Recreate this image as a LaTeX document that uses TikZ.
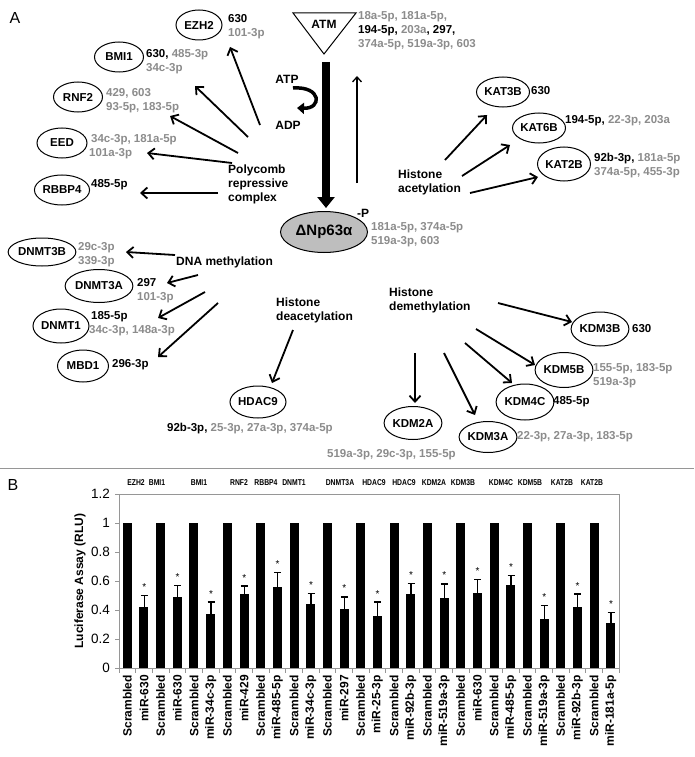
\documentclass[tikz,border=0pt]{standalone}
\usepackage{fontspec}
\setmainfont{Liberation Sans}
\newfontfamily\narrowfont[FakeStretch=0.8]{Liberation Sans}
\usetikzlibrary{shapes.geometric,arrows.meta}
\definecolor{gt}{RGB}{140,140,140}
\definecolor{axgray}{RGB}{150,150,150}
\definecolor{pfill}{RGB}{190,190,190}
\newcommand{\gry}[1]{\textcolor{gt}{#1}}
\begin{document}
\begin{tikzpicture}[x=1pt,y=-1pt,
  gene/.style={ellipse,draw,line width=1pt,inner sep=0pt,font=\fontsize{11.5}{13}\selectfont\bfseries},
  lab/.style={inner sep=0pt,align=left,font=\fontsize{11.5}{14}\selectfont\bfseries},
  proc/.style={inner sep=0pt,align=left,font=\fontsize{12}{14}\selectfont\bfseries},
  arr/.style={line width=1.8pt,-{Straight Barb[length=6pt,width=11pt]}},
  thinarr/.style={line width=1.3pt,-{Straight Barb[length=5pt,width=9pt]}},
  panel/.style={inner sep=0pt,font=\fontsize{16}{18}\selectfont},
  xlab/.style={inner sep=0pt,rotate=90,anchor=east,font=\fontsize{12}{14}\selectfont\bfseries},
  toplab/.style={inner sep=0pt,font=\narrowfont\fontsize{8.5}{9}\selectfont\bfseries},
  ticklab/.style={inner sep=0pt,anchor=east,font=\fontsize{13.5}{15}\selectfont}
]
\useasboundingbox (0,0) rectangle (694,757);
\fill[white] (0,0) rectangle (694,757);

% ---------- Panel A ----------
\node[panel] (pA) at (15,18) {A};

% ATM
\draw[line width=1pt] (293,13) -- (356,13) -- (324,54) -- cycle;
\node[proc] (atm) at (324,24) {ATM};
\node[lab,anchor=north west] (atmlab) at (358,11) {\gry{18a-5p, 181a-5p,}\\194-5p, \gry{203a}, 297,\\\gry{374a-5p, 519a-3p, 603}};

% p63
\node[ellipse,draw,line width=1pt,fill=pfill,minimum width=87pt,minimum height=41pt,inner sep=0pt,font=\fontsize{15}{17}\selectfont\bfseries] (p63) at (324,232) {ΔNp63α};
\node[proc] (phos) at (363,213) {-P};
\node[lab,anchor=north west] (p63lab) at (371,222) {\gry{181a-5p, 374a-5p}\\\gry{519a-3p, 603}};

% thick ATM -> p63
\coordinate (barTop) at (326,62);
\coordinate (barTip) at (326,208);
\draw[line width=8pt,-{Triangle[length=11pt,width=17pt]}] (barTop) -- (barTip);

% ATP/ADP
\node[proc] (atp) at (287,79) {ATP};
\node[proc] (adp) at (288,125) {ADP};
\coordinate (cA) at (293,88);
\coordinate (cB) at (297,108);
\draw[line width=3.5pt,-{Triangle[length=7pt,width=11pt]}] (cA) .. controls (322,86) and (322,109) .. (cB);

% thin up arrow
\coordinate (upS) at (357,183);
\coordinate (upE) at (357,76);
\draw[thinarr] (upS) -- (upE);

% Polycomb
\node[proc,anchor=north west] (pcr) at (228,165) {Polycomb\\repressive\\complex};
\node[gene,minimum width=46pt,minimum height=30pt] (ezh2) at (199,25) {EZH2};
\node[lab,anchor=north west] (ezh2l) at (228,14) {630\\\gry{101-3p}};
\node[gene,minimum width=49pt,minimum height=30pt] (bmi1) at (119,57) {BMI1};
\node[lab,anchor=north west] (bmi1l) at (146,49) {630, \gry{485-3p}\\\gry{34c-3p}};
\node[gene,minimum width=49pt,minimum height=30pt] (rnf2) at (78,97) {RNF2};
\node[lab,anchor=north west] (rnf2l) at (106,88) {\gry{429, 603}\\\gry{93-5p, 183-5p}};
\node[gene,minimum width=50pt,minimum height=30pt] (eed) at (62,143) {EED};
\node[lab,anchor=north west] (eedl) at (89,134) {\gry{\,34c-3p, 181a-5p}\\\gry{101a-3p}};
\node[gene,minimum width=50pt,minimum height=30pt] (rbbp4) at (62,190) {RBBP4};
\node[lab,anchor=west] (rbbp4l) at (91,185) {485-5p};

\coordinate (p1s) at (260,125); \coordinate (p1e) at (230,47);
\coordinate (p2s) at (248,137); \coordinate (p2e) at (195,86);
\coordinate (p3s) at (238,153); \coordinate (p3e) at (170,116);
\coordinate (p4s) at (232,163); \coordinate (p4e) at (147,153);
\coordinate (p5s) at (218,193); \coordinate (p5e) at (140,193);
\draw[arr] (p1s) -- (p1e);
\draw[arr] (p2s) -- (p2e);
\draw[arr] (p3s) -- (p3e);
\draw[arr] (p4s) -- (p4e);
\draw[arr] (p5s) -- (p5e);

% Histone acetylation
\node[proc,anchor=north west] (hac) at (398,170) {Histone\\acetylation};
\node[gene,minimum width=47pt,minimum height=30pt] (kat3b) at (503,92) {KAT3B};
\node[lab,anchor=west] (kat3bl) at (531,91) {630};
\node[gene,minimum width=48pt,minimum height=30pt] (kat6b) at (539,128) {KAT6B};
\node[lab,anchor=west] (kat6bl) at (565,121) {194-5p, \gry{22-3p, 203a}};
\node[gene,minimum width=48pt,minimum height=34pt] (kat2b) at (564,164) {KAT2B};
\node[lab,anchor=north west] (kat2bl) at (594,153) {92b-3p, \gry{181a-5p}\\\gry{374a-5p, 455-3p}};
\coordinate (a1s) at (445,160); \coordinate (a1e) at (487,115);
\coordinate (a2s) at (462,176); \coordinate (a2e) at (510,145);
\coordinate (a3s) at (470,193); \coordinate (a3e) at (538,177);
\draw[arr] (a1s) -- (a1e);
\draw[arr] (a2s) -- (a2e);
\draw[arr] (a3s) -- (a3e);

% DNA methylation
\node[proc,anchor=west] (dnam) at (176,262) {DNA methylation};
\node[gene,minimum width=64pt,minimum height=28pt] (dnmt3b) at (42,252) {DNMT3B};
\node[lab,anchor=north west] (dnmt3bl) at (78,242) {\gry{29c-3p}\\\gry{339-3p}};
\node[gene,minimum width=62pt,minimum height=33pt] (dnmt3a) at (99,286) {DNMT3A};
\node[lab,anchor=north west] (dnmt3al) at (137,278) {297\\\gry{101-3p}};
\node[gene,minimum width=53pt,minimum height=34pt] (dnmt1) at (61,326) {DNMT1};
\node[lab,anchor=north west] (dnmt1l) at (89,311) {\,185-5p\\\gry{34c-3p, 148a-3p}};
\node[gene,minimum width=51pt,minimum height=32pt] (mbd1) at (83,366) {MBD1};
\node[lab,anchor=west] (mbd1l) at (112,365) {296-3p};
\coordinate (d1s) at (175,255); \coordinate (d1e) at (126,252);
\coordinate (d2s) at (198,275); \coordinate (d2e) at (167,283);
\coordinate (d3s) at (205,292); \coordinate (d3e) at (158,318);
\coordinate (d4s) at (218,303); \coordinate (d4e) at (158,357);
\draw[arr] (d1s) -- (d1e);
\draw[arr] (d2s) -- (d2e);
\draw[arr] (d3s) -- (d3e);
\draw[arr] (d4s) -- (d4e);

% Histone deacetylation
\node[proc,anchor=north west] (hdac) at (276,298) {Histone\\deacetylation};
\node[gene,minimum width=50pt,minimum height=32pt] (hdac9) at (258,402) {HDAC9};
\node[lab,anchor=west] (hdac9l) at (167,429) {92b-3p, \gry{25-3p, 27a-3p, 374a-5p}};
\coordinate (h1s) at (293,330); \coordinate (h1e) at (272,383);
\draw[arr] (h1s) -- (h1e);

% Histone demethylation
\node[proc,anchor=north west] (hdm) at (389,288) {Histone\\demethylation};
\node[gene,minimum width=51pt,minimum height=34pt] (kdm3b) at (600,329) {KDM3B};
\node[lab,anchor=west] (kdm3bl) at (632,329) {630};
\node[gene,minimum width=48pt,minimum height=35pt] (kdm5b) at (564,370) {KDM5B};
\node[lab,anchor=north west] (kdm5bl) at (593,363) {\gry{155-5p, 183-5p}\\\gry{519a-3p}};
\node[gene,minimum width=50pt,minimum height=36pt] (kdm4c) at (525,402) {KDM4C};
\node[lab,anchor=west] (kdm4cl) at (553,402) {485-5p};
\node[gene,minimum width=50pt,minimum height=33pt] (kdm2a) at (413,423) {KDM2A};
\node[lab,anchor=west] (kdm2al) at (327,455) {\gry{519a-3p, 29c-3p, 155-5p}};
\node[gene,minimum width=50pt,minimum height=31pt] (kdm3a) at (488,437) {KDM3A};
\node[lab,anchor=west] (kdm3al) at (517,437) {\gry{22-3p, 27a-3p, 183-5p}};
\coordinate (m1s) at (498,303); \coordinate (m1e) at (572,322);
\coordinate (m2s) at (476,329); \coordinate (m2e) at (535,365);
\coordinate (m3s) at (465,343); \coordinate (m3e) at (512,383);
\coordinate (m4s) at (444,353); \coordinate (m4e) at (475,415);
\coordinate (m5s) at (415,353); \coordinate (m5e) at (415,403);
\draw[arr] (m1s) -- (m1e);
\draw[arr] (m2s) -- (m2e);
\draw[arr] (m3s) -- (m3e);
\draw[arr] (m4s) -- (m4e);
\draw[arr] (m5s) -- (m5e);

% separator
\draw[axgray,line width=0.8pt] (0,468) -- (694,468);

% ---------- Panel B ----------
\node[panel] (pB) at (13,485) {B};

% axes / frame
\draw[axgray,line width=0.7pt] (119,668) -- (119,494) -- (619,494) -- (619,668) -- cycle;
\foreach \v/\t in {0/0,0.2/0.2,0.4/0.4,0.6/0.6,0.8/0.8,1/1,1.2/1.2} {
  \draw[axgray,line width=0.7pt] (115,{668-145*\v}) -- (119,{668-145*\v});
  \node[ticklab] at (110,{668-145*\v}) {\t};
}
\foreach \k in {0,...,30} {
  \draw[axgray,line width=0.7pt] ({119+16.6667*\k},668) -- ({119+16.6667*\k},673);
}
\node[inner sep=0pt,rotate=90,font=\fontsize{12}{14}\selectfont\bfseries] (ylab) at (80,581) {Luciferase Assay (RLU)};

% bars
\foreach \v/\n [count=\i from 0] in {%
  1/Scrambled,0.42/miR-630,1/Scrambled,0.49/miR-630,1/Scrambled,0.37/miR-34c-3p,%
  1/Scrambled,0.51/miR-429,1/Scrambled,0.56/miR-485-5p,1/Scrambled,0.44/miR-34c-3p,%
  1/Scrambled,0.41/miR-297,1/Scrambled,0.36/miR-25-3p,1/Scrambled,0.51/miR-92b-3p,%
  1/Scrambled,0.48/miR-519a-3p,1/Scrambled,0.52/miR-630,1/Scrambled,0.57/miR-485-5p,%
  1/Scrambled,0.34/miR-519a-3p,1/Scrambled,0.42/miR-92b-3p,1/Scrambled,0.31/miR-181a-5p} {
  \fill[black] ({119+16.6667*\i+3.83},668) rectangle ({119+16.6667*\i+12.83},{668-145*\v});
  \node[xlab] at ({119+16.6667*\i+8.333},675) {\n};
}
% error bars and stars
\foreach \v/\e [count=\j from 0] in {0.42/0.50,0.49/0.57,0.37/0.455,0.51/0.565,0.56/0.66,0.44/0.515,0.41/0.49,0.36/0.455,0.51/0.585,0.48/0.58,0.52/0.61,0.57/0.64,0.34/0.43,0.42/0.51,0.31/0.385} {
  \draw[black,line width=1.2pt] ({144.333+33.3333*\j},{668-145*\v}) -- ({144.333+33.3333*\j},{668-145*\e});
  \draw[black,line width=1.2pt] ({144.333+33.3333*\j-3.5},{668-145*\e}) -- ({144.333+33.3333*\j+3.5},{668-145*\e});
  \node[inner sep=0pt,anchor=base,font=\fontsize{10}{12}\selectfont] at ({144.333+33.3333*\j},{668-145*\e-5}) {*};
}
% gene labels above chart
\foreach \x/\g in {136/EZH2,157/BMI1,199/BMI1,239/RNF2,266/RBBP4,294/DNMT1,340/DNMT3A,374/HDAC9,404/HDAC9,434/KDM2A,463/KDM3B,501/KDM4C,530/KDM5B,562/KAT2B,592/KAT2B} {
  \node[toplab] at (\x,483) {\g};
}
\end{tikzpicture}
\end{document}
